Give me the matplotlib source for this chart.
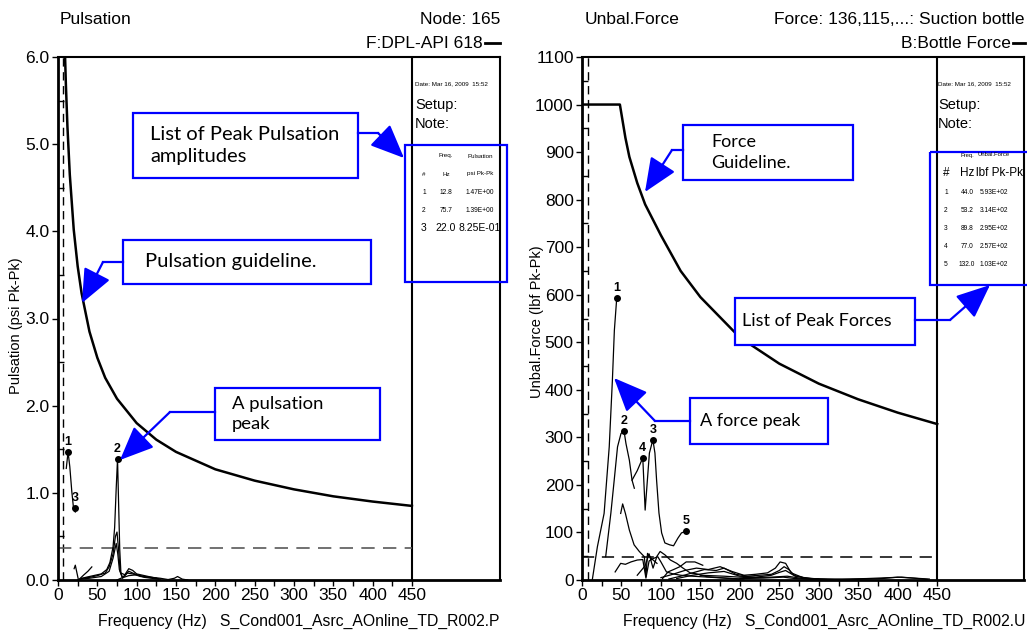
import matplotlib
matplotlib.use("Agg")
import matplotlib.pyplot as plt
import matplotlib.patches as mpatches
from matplotlib.ticker import MultipleLocator, FixedLocator, FormatStrFormatter

plt.rcParams['font.family'] = ['Liberation Sans', 'DejaVu Sans']

# ---------------- data: pulsation (left) ----------------
guide_L_f = [9, 10, 12, 15, 20, 25, 30, 40, 50, 60, 75, 100, 125, 150, 200, 250, 300, 350, 400, 450]
guide_L_v = [6.0, 5.69, 5.2, 4.65, 4.02, 3.6, 3.29, 2.85, 2.55, 2.32, 2.08, 1.8, 1.61, 1.47, 1.27, 1.14, 1.04, 0.96, 0.90, 0.85]

specL_a_f = [10.5, 12.8, 15.0, 17.5, 20.0, 22.0]
specL_a_v = [1.28, 1.47, 1.30, 1.02, 0.80, 0.78]
specL_b_f = [25, 35, 45, 55, 62, 66, 70, 72, 74, 75.7, 77, 78.5, 80, 85, 90, 95, 100, 110, 120, 130]
specL_b_v = [0.0, 0.03, 0.05, 0.07, 0.12, 0.2, 0.38, 0.6, 1.05, 1.39, 0.9, 0.35, 0.08, 0.06, 0.13, 0.11, 0.07, 0.05, 0.03, 0.01]
specL_c_f = [30, 40, 50, 60, 65, 70, 73, 75, 77, 79, 82, 88, 95, 105, 115, 125]
specL_c_v = [0.02, 0.03, 0.05, 0.08, 0.15, 0.3, 0.5, 0.55, 0.35, 0.1, 0.03, 0.08, 0.07, 0.04, 0.03, 0.02]
specL_d_f = [28, 40, 55, 65, 70, 74, 76, 78, 82, 90, 100, 110, 128]
specL_d_v = [0.01, 0.02, 0.04, 0.1, 0.25, 0.42, 0.3, 0.12, 0.02, 0.1, 0.06, 0.03, 0.01]
specL_e_f = [20.5, 22, 26, 33, 38, 43]
specL_e_v = [0.13, 0.17, 0.0, 0.06, 0.1, 0.15]
specL_f_f = [75, 80, 90, 100, 110, 120, 130, 140, 148, 152, 158, 165]
specL_f_v = [0.0, 0.02, 0.05, 0.06, 0.04, 0.03, 0.02, 0.005, 0.02, 0.04, 0.01, 0.0]

peak_L_f = [12.8, 75.7, 22.0]
peak_L_v = [1.47, 1.39, 0.825]

# ---------------- data: unbalanced force (right) ----------------
guide_R_f = [0, 48, 55, 60, 70, 80, 100, 125, 150, 200, 250, 300, 350, 400, 450]
guide_R_v = [1000, 1000, 930, 890, 835, 790, 725, 650, 595, 510, 455, 413, 380, 352, 328]

specR_a_f = [13, 19.5, 28, 34.5, 38.5, 41, 44.0]
specR_a_v = [0, 70, 140, 280, 420, 525, 593]
specR_b_f = [30, 36.6, 40.8, 45, 49.4, 53.2, 55.7, 60, 63.4, 66.3]
specR_b_v = [49, 141, 210, 280, 308, 314, 287, 252, 210, 193]
specR_c_f = [63.4, 70, 77.0, 80, 85.4, 89.8, 92.4, 94.5, 97.5, 100.9, 105, 111, 116, 121.5, 126, 132.0]
specR_c_v = [210, 230, 257, 147, 267, 295, 267, 210, 141, 99, 78, 74, 72, 88, 99, 103]
specR_d_f = [49, 51.5, 55, 60, 66, 72.6, 79, 81, 83, 88, 95]
specR_d_v = [140, 160, 140, 105, 74, 60, 49, 7, 56, 45, 35]

noiseR_1_f = [42, 49, 55, 62, 70, 77, 81, 85, 90, 96, 100, 107, 115, 125, 140, 160, 180, 200]
noiseR_1_v = [17, 35, 33, 38, 42, 43, 4, 40, 45, 49, 38, 17, 13, 10, 8, 6, 4, 2]
noiseR_2_f = [70, 80, 85, 90, 95, 99, 105, 112, 120, 128, 137, 145, 158, 175, 190, 205]
noiseR_2_v = [10, 30, 55, 25, 50, 60, 53, 42, 35, 25, 15, 13, 7, 5, 3, 2]
noiseR_3_f = [102, 109, 116, 124, 132, 143, 153]
noiseR_3_v = [3, 17, 22, 28, 38, 38, 31]
noiseR_4_f = [100, 115, 130, 145, 160, 175, 190, 205, 220, 235, 245, 251, 258, 265, 280, 300]
noiseR_4_v = [5, 12, 20, 25, 22, 28, 18, 10, 12, 15, 25, 38, 35, 15, 5, 2]
noiseR_5_f = [110, 125, 140, 155, 170, 180, 195, 210, 225, 240, 250, 256, 262, 270, 290, 320, 350]
noiseR_5_v = [2, 8, 15, 22, 20, 25, 12, 8, 10, 12, 20, 28, 22, 8, 3, 1, 1]
noiseR_6_f = [120, 140, 160, 180, 200, 220, 240, 250, 258, 268, 285, 310]
noiseR_6_v = [3, 10, 15, 18, 8, 6, 10, 16, 20, 10, 3, 1]
noiseR_7_f = [150, 180, 210, 240, 260, 280, 300, 330, 360, 390, 405, 420, 440]
noiseR_7_v = [10, 8, 5, 6, 8, 3, 2, 2, 3, 5, 6, 4, 2]
noiseR_8_f = [200, 230, 255, 270, 300, 340, 380, 400, 420, 438]
noiseR_8_v = [3, 4, 6, 3, 1, 1, 3, 6, 4, 1]

peak_R_f = [44.0, 53.2, 89.8, 77.0, 132.0]
peak_R_v = [593, 314, 295, 257, 103]

W, H = 1027, 633
BLUE = '#0000FF'
fig = plt.figure(figsize=(W / 100, H / 100), dpi=100)


def fbox(x0, y0, x1, y1):
    return [x0 / W, 1 - y1 / H, (x1 - x0) / W, (y1 - y0) / H]


axL = fig.add_axes(fbox(58, 57, 500, 580))
axR = fig.add_axes(fbox(582, 57, 1024, 580))

for ax in (axL, axR):
    ax.tick_params(axis='both', which='major', labelsize=12.5, direction='out', length=4, width=1, pad=2)
    ax.tick_params(axis='y', which='minor', direction='in', length=4, width=1)
    ax.tick_params(axis='x', which='minor', direction='out', length=4, width=1)
    ax.xaxis.set_major_locator(FixedLocator(range(0, 451, 50)))
    ax.xaxis.set_minor_locator(FixedLocator(range(25, 450, 50)))
    for s in ('left', 'bottom'):
        ax.spines[s].set_linewidth(2)
    for s in ('top', 'right'):
        ax.spines[s].set_linewidth(1.5)
    ax.axvline(450, color='k', lw=1.5)

# left panel
axL.set_xlim(0, 562)
axL.set_ylim(0, 6)
axL.yaxis.set_major_locator(MultipleLocator(1))
axL.yaxis.set_minor_locator(MultipleLocator(0.5))
axL.yaxis.set_major_formatter(FormatStrFormatter('%.1f'))
axL.axvline(6.5, color='k', ls=(0, (6, 4)), lw=1)
axL.hlines(0.37, 0, 450, colors='0.35', linestyles=(0, (8, 5)), lw=1.2)
axL.plot(guide_L_f, guide_L_v, color='k', lw=1.8)
for f, v in [(specL_a_f, specL_a_v), (specL_b_f, specL_b_v), (specL_c_f, specL_c_v),
             (specL_d_f, specL_d_v), (specL_e_f, specL_e_v), (specL_f_f, specL_f_v)]:
    axL.plot(f, v, color='k', lw=0.9)
axL.plot(peak_L_f, peak_L_v, 'o', color='k', ms=4)
for i, (f, v) in enumerate(zip(peak_L_f, peak_L_v)):
    axL.annotate(str(i + 1), (f, v), xytext=(0, 3), textcoords='offset points',
                 ha='center', va='bottom', fontsize=9, fontweight='bold')
axL.set_ylabel('Pulsation (psi Pk-Pk)', fontsize=10.5)
axL.yaxis.set_label_coords(-0.08, 0.486)

# right panel
axR.set_xlim(0, 560)
axR.set_ylim(0, 1100)
axR.yaxis.set_major_locator(MultipleLocator(100))
axR.yaxis.set_minor_locator(MultipleLocator(50))
axR.axvline(7, color='k', ls=(0, (6, 4)), lw=1)
axR.hlines(48, 0, 450, colors='k', linestyles=(0, (8, 5)), lw=1.1)
axR.plot(guide_R_f, guide_R_v, color='k', lw=1.8)
for f, v in [(specR_a_f, specR_a_v), (specR_b_f, specR_b_v), (specR_c_f, specR_c_v),
             (specR_d_f, specR_d_v), (noiseR_1_f, noiseR_1_v), (noiseR_2_f, noiseR_2_v),
             (noiseR_3_f, noiseR_3_v), (noiseR_4_f, noiseR_4_v), (noiseR_5_f, noiseR_5_v),
             (noiseR_6_f, noiseR_6_v), (noiseR_7_f, noiseR_7_v), (noiseR_8_f, noiseR_8_v)]:
    axR.plot(f, v, color='k', lw=0.9)
axR.plot(peak_R_f, peak_R_v, 'o', color='k', ms=4)
for i, (f, v) in enumerate(zip(peak_R_f, peak_R_v)):
    axR.annotate(str(i + 1), (f, v), xytext=(0, 3), textcoords='offset points',
                 ha='center', va='bottom', fontsize=9, fontweight='bold')
axR.set_ylabel('Unbal.Force (lbf Pk-Pk)', fontsize=10.5)
axR.yaxis.set_label_coords(-0.085, 0.493)

# overlay in pixel coordinates for titles, info panel and call-outs
ov = fig.add_axes([0, 0, 1, 1])
ov.set_xlim(0, W)
ov.set_ylim(H, 0)
ov.axis('off')
ov.set_zorder(5)

tfs = 12.5
ov.text(60, 19, 'Pulsation', fontsize=tfs, va='center')
ov.text(500, 19, 'Node: 165', fontsize=tfs, va='center', ha='right')
ov.text(483, 44, 'F:DPL-API 618', fontsize=tfs, va='center', ha='right')
ov.plot([485, 500], [43, 43], color='k', lw=2)
ov.text(585, 19, 'Unbal.Force', fontsize=tfs, va='center')
ov.text(1024, 19, 'Force: 136,115,...: Suction bottle', fontsize=tfs, va='center', ha='right')
ov.text(1011, 44, 'B:Bottle Force', fontsize=tfs, va='center', ha='right')
ov.plot([1013, 1025], [43, 43], color='k', lw=2)
ov.text(500, 621, 'Frequency (Hz)   S_Cond001_Asrc_AOnline_TD_R002.P', fontsize=11.3, va='center', ha='right')
ov.text(1025, 621, 'Frequency (Hz)   S_Cond001_Asrc_AOnline_TD_R002.U', fontsize=11.3, va='center', ha='right')

# info panels
for x0 in (415, 938):
    ov.text(x0, 84, 'Date: Mar 16, 2009  15:52', fontsize=4.5, va='center')
    ov.text(x0, 105, 'Setup:', fontsize=10.5, va='center')
    ov.text(x0, 124, 'Note:', fontsize=10.5, va='center')

ov.text(446, 156, 'Freq.', fontsize=4.5, ha='center', va='center')
ov.text(480, 156, 'Pulsation', fontsize=4.5, ha='center', va='center')
ov.text(424, 174, '#', fontsize=4.5, ha='center', va='center')
ov.text(446, 174, 'Hz', fontsize=4.5, ha='center', va='center')
ov.text(480, 174, 'psi Pk-Pk', fontsize=4.5, ha='center', va='center')
for i, (f, v) in enumerate(zip(peak_L_f, peak_L_v)):
    fs = 7.5 if i == 2 else 4.8
    y = 192 + 18 * i
    ov.text(424, y, str(i + 1), fontsize=fs, ha='center', va='center')
    ov.text(446, y, f'{f:.1f}', fontsize=fs, ha='center', va='center')
    ov.text(480, y, f'{v:.2E}', fontsize=fs, ha='center', va='center')

ov.text(967, 155, 'Freq.', fontsize=4.2, ha='center', va='center')
ov.text(994, 155, 'Unbal.Force', fontsize=4.2, ha='center', va='center')
ov.text(946, 173, '#', fontsize=8.5, ha='center', va='center')
ov.text(967, 173, 'Hz', fontsize=8.5, ha='center', va='center')
ov.text(1000, 173, 'lbf Pk-Pk', fontsize=8.5, ha='center', va='center')
for i, (f, v) in enumerate(zip(peak_R_f, peak_R_v)):
    y = 192 + 18 * i
    ov.text(946, y, str(i + 1), fontsize=4.8, ha='center', va='center')
    ov.text(967, y, f'{f:.1f}', fontsize=4.8, ha='center', va='center')
    ov.text(994, y, f'{v:.2E}', fontsize=4.8, ha='center', va='center')


# call-outs
def callout(x0, y0, x1, y1, lines, tx, fs):
    ov.add_patch(mpatches.Rectangle((x0, y0), x1 - x0, y1 - y0, fc='white', ec=BLUE, lw=1.6))
    ov.text(tx, (y0 + y1) / 2, '\n'.join(lines), va='center', ha='left', linespacing=1.35,
            family=['Lato', 'DejaVu Sans'], fontsize=fs)


def pointer(pts):
    xs = [p[0] for p in pts]
    ys = [p[1] for p in pts]
    ov.plot(xs[:-1], ys[:-1], color=BLUE, lw=1.6)
    ov.annotate('', xy=pts[-1], xytext=pts[-2],
                arrowprops=dict(arrowstyle='-|>,head_length=1.4,head_width=0.6', color=BLUE,
                                lw=1.6, shrinkA=0, shrinkB=0, mutation_scale=15))


callout(133, 113, 358, 178, ['List of Peak Pulsation', 'amplitudes'], 150, 14.5)
pointer([(358, 133), (378, 133), (404, 158)])
callout(123, 240, 371, 284, ['Pulsation guideline.'], 145, 14.5)
pointer([(123, 262), (103, 262), (82, 303)])
callout(215, 388, 380, 440, ['A pulsation', 'peak'], 232, 13.3)
pointer([(215, 412), (170, 412), (120, 460)])
ov.add_patch(mpatches.Rectangle((405, 145), 102, 137, fc='none', ec=BLUE, lw=1.6))

callout(683, 125, 853, 180, ['Force', 'Guideline.'], 711, 13)
pointer([(683, 150), (672, 150), (645, 192)])
callout(735, 298, 915, 345, ['List of Peak Forces'], 742, 13)
pointer([(915, 320), (950, 320), (990, 285)])
callout(690, 398, 828, 444, ['A force peak'], 700, 13)
pointer([(690, 421), (655, 421), (614, 378)])
ov.add_patch(mpatches.Rectangle((930, 152), 100, 133, fc='none', ec=BLUE, lw=1.6))

fig.savefig('out.png', dpi=100)
